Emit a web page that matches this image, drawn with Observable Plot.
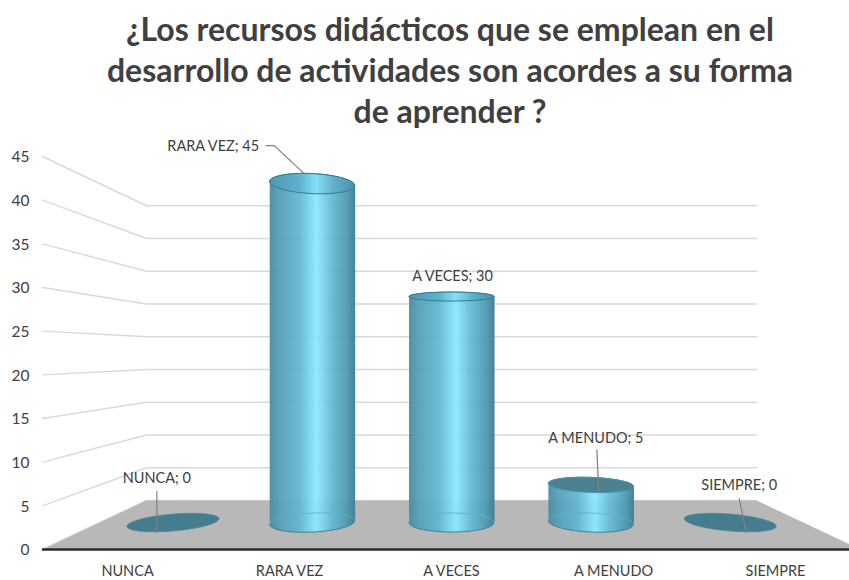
<!DOCTYPE html>
<html lang="es">
<head>
<meta charset="utf-8">
<script src="https://cdn.jsdelivr.net/npm/d3@7"></script>
<script src="https://cdn.jsdelivr.net/npm/@observablehq/plot@0.6"></script>
<style>
html,body{margin:0;padding:0;background:#fff;overflow:hidden}
#title{width:849px;height:130px;box-sizing:border-box;padding-top:8px;padding-left:51px;text-align:center;font:bold 32px/41px Lato,sans-serif;color:#404040}
#title div{white-space:nowrap}
</style>
</head>
<body>
<div id="title"><div>¿Los recursos didácticos que se emplean en el</div><div>desarrollo de actividades son acordes a su forma</div><div>de aprender ?</div></div>
<div id="chart"></div>
<script>
// Data
const categories = ["NUNCA", "RARA VEZ", "A VECES", "A MENUDO", "SIEMPRE"];
const values = [0, 45, 30, 5, 0];
const yTicks = [0, 5, 10, 15, 20, 25, 30, 35, 40, 45];

// Projection of the 3D scene onto the scale units
const UX = 162, UY = 393 / 45;               // px per unit
const shrinkX = 0.2543, shrinkY = 0.25, rise = 49 / UY; // back wall vs. front edge
const proj = (i, v, d) => ({x: 2 + (i - 2) * (1 - shrinkX * d), y: v * (1 - shrinkY * d) + rise * d});
const DEPTH = 0.55, RX = 42.5;
const lidShape = {45: [10, 2], 30: [4.5, 0], 5: [7.5, 1.5]};
const range = (a, b, n = 40) => d3.range(n + 1).map(k => a + (b - a) * k / n);
const ell = (c, rx, ry, tilt, t) => ({
  x: c.x + rx * Math.cos(t) / UX,
  y: c.y + (ry * Math.sin(t) - tilt * Math.cos(t)) / UY
});

const rows = categories.map((name, i) => ({name, value: values[i], i,
  base: proj(i, 0, DEPTH), top: proj(i, values[i], DEPTH)}));
const bars = rows.filter(r => r.value > 0);
const zeros = rows.filter(r => r.value === 0);

const floor = [
  {x: -0.525, y: 0}, {x: 2 - 2.525 * (1 - shrinkX), y: rise},
  {x: 2 + 2.525 * (1 - shrinkX), y: rise}, {x: 4.525, y: 0}
];

const wall = yTicks.flatMap(v => [
  {v, x: -0.525, y: v},
  {v, x: 2 - 2.525 * (1 - shrinkX), y: v * (1 - shrinkY) + rise},
  {v, x: 2 + 2.525 * (1 - shrinkX), y: v * (1 - shrinkY) + rise}
]);

const tiltOf = i => (i - 2) * 1.9;
const bodies = bars.flatMap(r => {
  const [ry, tilt] = lidShape[r.value];
  return [
    ...range(Math.PI, 0).map(t => ({id: r.name, ...ell(r.top, RX, ry, tilt, t)})),
    ...range(0, -Math.PI).map(t => ({id: r.name, ...ell(r.base, RX, 9.5, tiltOf(r.i), t)}))
  ];
});
const bottomBack = bars.flatMap(r => range(Math.PI, 0).map(t => ({id: r.name, ...ell(r.base, RX, 9.5, tiltOf(r.i), t)})));
const lidPts = v => bars.filter(r => v(r.value)).flatMap(r => {
  const [ry, tilt] = lidShape[r.value];
  return range(0, 2 * Math.PI, 60).map(t => ({id: r.name, ...ell(r.top, RX, ry, tilt, t)}));
});
const disks = zeros.flatMap(r => range(0, 2 * Math.PI, 60).map(t => ({id: r.name, ...ell(r.base, 46, 8.5, tiltOf(r.i), t)})));

// Data labels: offsets from the top centre of each cylinder, in px
const labelOff = {"NUNCA": [-16, -45], "RARA VEZ": [-99, -38], "A VECES": [1, -21], "A MENUDO": [5, -48], "SIEMPRE": [9, -38]};
const labels = rows.map(r => ({text: `${r.name}; ${r.value}`,
  x: r.top.x + labelOff[r.name][0] / UX, y: r.top.y - labelOff[r.name][1] / UY}));
const P = (r, dx, dy) => ({id: r.name, x: r.top.x + dx / UX, y: r.top.y - dy / UY});
const leaders = [
  P(rows[0], -16, -31), P(rows[0], -16, 10),
  P(rows[1], -46, -38), P(rows[1], -38, -38), P(rows[1], -8, -10),
  P(rows[3], 6, -35), P(rows[3], 8, 7),
  P(rows[4], 9, -24), P(rows[4], 16, 10)
];

const text = "#404040";
const plot = Plot.plot({
  width: 849, height: 450,
  marginLeft: 42, marginRight: 0, marginTop: 26, marginBottom: 31,
  x: {domain: [-0.525, 2 + 398 / UX], axis: null},
  y: {domain: [0, 45], axis: null},
  style: {fontFamily: "Lato, sans-serif", background: "#fff", overflow: "hidden"},
  marks: [
    Plot.line(wall, {x: "x", y: "y", z: "v", stroke: "#d9d9d9", strokeWidth: 1.4}),
    Plot.line(floor, {x: "x", y: "y", fill: "#b8b8b8", stroke: "none", clip: true}),
    Plot.line(disks, {x: "x", y: "y", z: "id", fill: "#457c8e", stroke: "#4a8599", strokeWidth: 0.6}),
    Plot.line(bodies, {x: "x", y: "y", z: "id", fill: "url(#cyl)", stroke: "#3c8299", strokeWidth: 1, fillOpacity: 0.95}),
    Plot.line(bottomBack, {x: "x", y: "y", z: "id", stroke: "#58b2cc", strokeWidth: 0.8}),
    Plot.line(lidPts(v => v >= 20), {x: "x", y: "y", z: "id", fill: "url(#lid)", stroke: "#2f7b92", strokeWidth: 1}),
    Plot.line(lidPts(v => v < 20), {x: "x", y: "y", z: "id", fill: "#4c8192", stroke: "#3f96b0", strokeWidth: 1}),
    Plot.line(leaders, {x: "x", y: "y", z: "id", stroke: "#7f7f7f", strokeWidth: 1.2}),
    Plot.text(labels, {x: "x", y: "y", text: "text", fill: text, fontSize: 14.5, dy: 1}),
    Plot.ruleY([0], {stroke: "#2b2b2b", strokeWidth: 2.4}),
    Plot.axisY({ticks: yTicks, tickSize: 0, tickPadding: 13, color: text, fontSize: 15.5, label: null, tickFormat: d => d, dy: 1}),
    Plot.axisX({ticks: d3.range(categories.length), tickSize: 0, tickPadding: 16, color: text, fontSize: 14.5, label: null, tickFormat: i => categories[i]})
  ]
});

const defs = d3.select(plot).insert("defs", ":first-child");
const grad = (id, stops) => {
  const g = defs.append("linearGradient").attr("id", id).attr("x1", 0).attr("x2", 1).attr("y1", 0).attr("y2", 0);
  stops.forEach(([o, c]) => g.append("stop").attr("offset", o).attr("stop-color", c));
};
grad("cyl", [[0, "#4a8ca3"], [0.12, "#56a0b9"], [0.35, "#63b7d1"], [0.55, "#8ee8ff"], [0.72, "#66bdd6"], [0.9, "#4f9bb3"], [1, "#3f7f95"]]);
grad("lid", [[0, "#4f97ae"], [0.35, "#5fb2cc"], [0.55, "#86e0f8"], [0.75, "#60b0c9"], [1, "#4a93aa"]]);
document.getElementById("chart").append(plot);
</script>
</body>
</html>
